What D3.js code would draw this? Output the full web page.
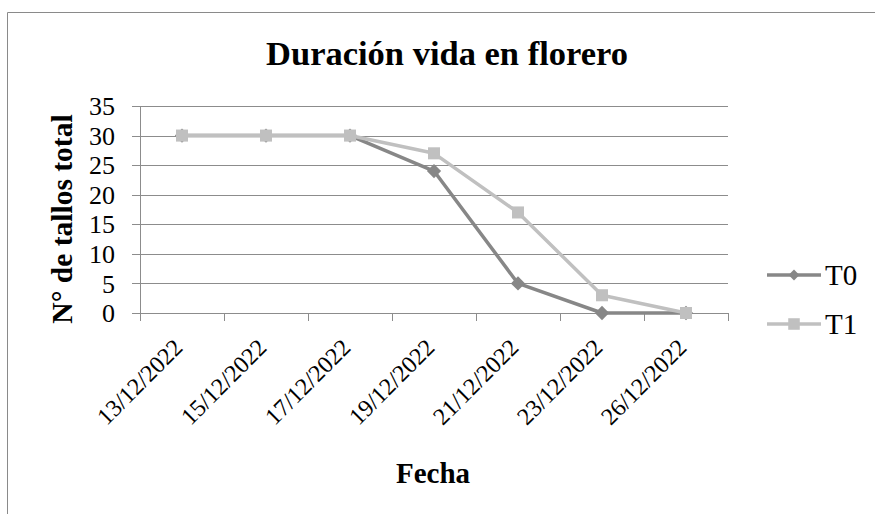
<!DOCTYPE html>
<html>
<head>
<meta charset="utf-8">
<script src="https://cdn.jsdelivr.net/npm/d3@7"></script>
<style>
  body { margin: 0; background: #fff; }
</style>
</head>
<body>
<div id="chart"></div>
<script>
const dates = ["13/12/2022", "15/12/2022", "17/12/2022", "19/12/2022", "21/12/2022", "23/12/2022", "26/12/2022"];
const t0 = [30, 30, 30, 24, 5, 0, 0];
const t1 = [30, 30, 30, 27, 17, 3, 0];
const yTicks = [0, 5, 10, 15, 20, 25, 30, 35];

const W = 875, H = 514;
const plot = { left: 140, right: 728, top: 106, bottom: 313 };
const serif = '"Liberation Serif"';

const svg = d3.select("#chart").append("svg")
  .attr("width", W).attr("height", H);

// outer frame
svg.append("path")
  .attr("d", `M7.5,${H} V12.5 H${W}`)
  .attr("fill", "none").attr("stroke", "#8a8a8a").attr("stroke-width", 1);

const x = d3.scaleBand().domain(dates).range([plot.left, plot.right]);
const y = d3.scaleLinear().domain([0, 35]).range([plot.bottom, plot.top]);
const cx = d => x(d) + x.bandwidth() / 2;

// gridlines
svg.append("g").selectAll("line").data(yTicks).join("line")
  .attr("x1", plot.left - 8).attr("x2", plot.right)
  .attr("y1", d => Math.round(y(d)) + 0.5).attr("y2", d => Math.round(y(d)) + 0.5)
  .attr("stroke", "#8c8c8c").attr("stroke-width", 1);

// y axis line
svg.append("line")
  .attr("x1", plot.left + 0.5).attr("x2", plot.left + 0.5)
  .attr("y1", plot.top).attr("y2", plot.bottom)
  .attr("stroke", "#8c8c8c");

// x ticks
const xEdges = dates.map(d => x(d)).concat([plot.right]);
svg.append("g").selectAll("line").data(xEdges).join("line")
  .attr("x1", d => Math.round(d) + 0.5).attr("x2", d => Math.round(d) + 0.5)
  .attr("y1", plot.bottom).attr("y2", plot.bottom + 8)
  .attr("stroke", "#8c8c8c");

// y tick labels
svg.append("g").selectAll("text").data(yTicks).join("text")
  .attr("x", plot.left - 25).attr("y", d => y(d))
  .attr("dy", "0.35em").attr("text-anchor", "end")
  .style("font-family", serif).style("font-size", "26px").text(d => d);

// x tick labels
svg.append("g").selectAll("text").data(dates).join("text")
  .attr("transform", d => `translate(${cx(d) + 2},${plot.bottom + 36}) rotate(-45)`)
  .attr("text-anchor", "end")
  .style("font-family", serif).style("font-size", "24px").text(d => d);

// title
svg.append("text")
  .attr("x", 447).attr("y", 65).attr("text-anchor", "middle")
  .style("font-family", serif).style("font-size", "34.5px").style("font-weight", "bold")
  .text("Duración vida en florero");

// axis titles
svg.append("text")
  .attr("transform", `translate(72,219) rotate(-90)`)
  .attr("text-anchor", "middle")
  .style("font-family", serif).style("font-size", "29.5px").style("font-weight", "bold")
  .text("N° de tallos total");

svg.append("text")
  .attr("x", 433).attr("y", 483).attr("text-anchor", "middle")
  .style("font-family", serif).style("font-size", "29px").style("font-weight", "bold")
  .text("Fecha");

// series
const series = [
  { name: "T0", values: t0, color: "#878787", marker: "diamond" },
  { name: "T1", values: t1, color: "#c0c0c0", marker: "square" }
];

const line = d3.line()
  .x((d, i) => cx(dates[i]))
  .y(d => y(d));

const symbolFor = (m, big) => m === "diamond"
  ? d3.symbol().type(d3.symbolDiamond2).size(big ? 130 : 75)
  : d3.symbol().type(d3.symbolSquare2).size(big ? 185 : 170);

series.forEach(s => {
  svg.append("path")
    .datum(s.values)
    .attr("d", line)
    .attr("fill", "none")
    .attr("stroke", s.color)
    .attr("stroke-width", 3.5)
    .attr("stroke-linejoin", "round");
  svg.append("g").selectAll("path").data(s.values).join("path")
    .attr("transform", (d, i) => `translate(${cx(dates[i])},${y(d)})`)
    .attr("d", symbolFor(s.marker, true)())
    .attr("fill", s.color);
});

// legend
const legend = svg.append("g");
series.forEach((s, i) => {
  const ly = 275 + i * 49;
  legend.append("line")
    .attr("x1", 767).attr("x2", 821).attr("y1", ly).attr("y2", ly)
    .attr("stroke", s.color).attr("stroke-width", 3.5);
  legend.append("path")
    .attr("transform", `translate(794,${ly})`)
    .attr("d", symbolFor(s.marker, false)())
    .attr("fill", s.color);
  legend.append("text")
    .attr("x", 825).attr("y", ly).attr("dy", "0.35em")
    .style("font-family", serif).style("font-size", "29px").text(s.name);
});
</script>
</body>
</html>
